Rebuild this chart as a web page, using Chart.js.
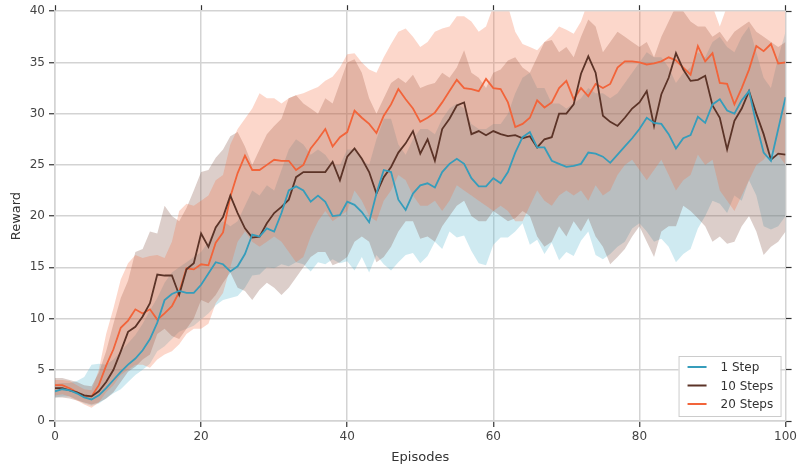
<!DOCTYPE html>
<html>
<head>
<meta charset="utf-8">
<script src="https://cdn.jsdelivr.net/npm/chart.js@4/dist/chart.umd.min.js"></script>
<style>
  html, body { margin: 0; padding: 0; background: #fff; }
  #wrap { width: 800px; height: 467px; }
</style>
</head>
<body>
<div id="wrap"><canvas id="rewardChart" width="800" height="467"></canvas></div>
<script>
// series names
const seriesNames = ['1 Step', '10 Steps', '20 Steps'];

// axis ticks
const xTicks = [0, 20, 40, 60, 80, 100];
const yTicks = [0, 5, 10, 15, 20, 25, 30, 35, 40];

// mean reward per episode (episode = index, 0..100)
const step1Mean = [
  2.9, 3.1, 3.0, 2.7, 2.3, 2.1, 2.5, 3.2, 4.0, 4.8,
  5.5, 6.1, 6.9, 8.0, 9.6, 11.8, 12.4, 12.7, 12.5, 12.5,
  13.3, 14.4, 15.5, 15.3, 14.6, 15.1, 16.3, 18.2, 18.0, 18.8,
  18.5, 20.3, 22.5, 22.9, 22.5, 21.4, 22.0, 21.4, 20.0, 20.1,
  21.4, 21.1, 20.4, 19.4, 22.2, 24.5, 24.3, 21.6, 20.6, 22.2,
  23.0, 23.2, 22.8, 24.3, 25.1, 25.6, 25.1, 23.7, 22.9, 22.9,
  23.7, 23.2, 24.3, 26.2, 27.7, 28.2, 26.7, 26.7, 25.4, 25.1,
  24.8, 24.9, 25.1, 26.2, 26.1, 25.8, 25.2, 26.0, 26.8, 27.6,
  28.5, 29.6, 29.1, 29.0, 28.0, 26.6, 27.6, 27.9, 29.7, 29.1,
  30.9, 31.4, 30.3, 30.0, 31.3, 32.2, 29.0, 26.2, 25.4, 28.5,
  31.6
];
const step10Mean = [
  3.2, 3.2, 3.0, 2.8, 2.5, 2.4, 2.9, 3.8, 5.0, 6.8,
  8.7, 9.2, 10.2, 11.5, 14.3, 14.2, 14.2, 12.3, 14.8, 15.4,
  18.3, 17.0, 18.9, 19.9, 22.0, 20.3, 18.8, 17.9, 18.0, 19.3,
  20.3, 20.9, 21.6, 23.8, 24.3, 24.3, 24.3, 24.3, 25.3, 23.5,
  25.8, 26.6, 25.6, 24.3, 22.2, 23.8, 24.8, 26.2, 27.1, 28.3,
  26.1, 27.5, 25.4, 28.5, 29.5, 30.8, 31.1, 28.0, 28.3, 27.9,
  28.3, 28.0, 27.8, 27.9, 27.6, 27.8, 26.7, 27.5, 27.7, 30.0,
  30.0, 30.9, 33.9, 35.6, 34.0, 29.8, 29.2, 28.8, 29.6, 30.5,
  31.1, 32.2, 28.8, 31.9, 33.5, 35.9, 34.3, 33.2, 33.3, 33.7,
  30.8, 29.6, 26.5, 29.3, 30.5, 32.2, 30.0, 28.0, 25.5, 26.1,
  26.0
];
const step20Mean = [
  3.5, 3.5, 3.2, 2.8, 2.4, 2.4, 3.5, 5.4, 7.0, 9.1,
  9.8, 10.9, 10.5, 10.9, 9.9, 10.5, 11.2, 12.6, 14.9, 14.8,
  15.3, 15.2, 17.4, 18.4, 21.9, 24.2, 25.9, 24.5, 24.5, 25.0,
  25.5, 25.4, 25.4, 24.5, 25.0, 26.6, 27.5, 28.5, 26.8, 27.7,
  28.2, 30.3, 29.6, 29.0, 28.1, 29.8, 30.9, 32.4, 31.4, 30.5,
  29.2, 29.6, 30.1, 31.1, 32.2, 33.3, 32.5, 32.4, 32.2, 33.4,
  32.5, 32.4, 31.1, 28.7, 29.0, 29.6, 31.3, 30.6, 31.1, 32.5,
  33.2, 31.4, 32.5, 31.7, 32.9, 32.5, 32.9, 34.5, 35.1, 35.1,
  35.0, 34.8, 34.9, 35.1, 35.5, 35.2, 34.5, 33.8, 36.6, 35.1,
  35.9, 33.0, 32.9, 30.9, 32.5, 34.3, 36.6, 36.1, 36.8, 34.9,
  35.0
];

// shaded band edges
const step1High = [
  3.6, 3.7, 3.7, 3.9, 4.3, 5.5, 5.6, 5.5, 6.0, 6.8,
  7.6, 8.4, 9.5, 10.8, 12.0, 13.5, 14.5, 15.0, 15.5, 16.0,
  16.5, 17.5, 19.0, 19.5, 19.0, 19.5, 21.0, 22.5, 22.0, 23.0,
  22.5, 24.5, 26.5, 27.5, 27.0, 26.0, 26.5, 26.0, 25.0, 25.0,
  26.5, 26.5, 25.5, 25.0, 27.5, 29.5, 29.5, 27.0, 26.0, 27.5,
  28.5, 28.5, 28.0, 29.5, 30.5, 31.0, 30.5, 29.0, 28.5, 28.5,
  29.0, 29.0, 30.0, 32.0, 33.5, 34.0, 32.5, 32.5, 31.0, 31.0,
  30.5, 31.0, 31.5, 32.5, 32.0, 32.0, 31.5, 32.0, 33.0, 34.0,
  35.0, 36.0, 35.5, 35.5, 34.5, 33.0, 34.0, 34.5, 36.0, 35.5,
  37.0, 37.5, 36.5, 36.0, 37.5, 38.5, 36.0, 33.5, 32.5, 35.5,
  38.0
];
const step1Low = [
  2.3, 2.4, 2.4, 2.1, 1.7, 1.5, 1.7, 2.2, 2.7, 3.1,
  3.8, 4.5, 5.0, 5.6, 6.8, 7.3, 8.0, 8.7, 9.0, 9.3,
  9.9, 10.5, 11.3, 11.8, 12.0, 12.2, 13.0, 14.2, 14.3, 15.0,
  14.9, 15.3, 15.1, 15.5, 15.3, 14.6, 15.5, 15.3, 15.8, 15.4,
  15.6, 14.7, 16.0, 14.5, 16.2, 15.3, 14.7, 15.5, 16.2, 16.4,
  15.4, 16.1, 17.5, 16.8, 18.5, 17.9, 18.1, 16.6, 15.4, 15.2,
  17.2, 17.9, 17.9, 18.5, 19.3, 17.2, 17.7, 16.3, 17.4, 15.7,
  16.5, 16.1, 17.6, 18.5, 16.2, 15.8, 16.3, 17.0, 17.5, 18.8,
  19.3, 18.5, 17.5, 17.8, 17.0, 15.5, 16.3, 16.8, 18.8, 20.0,
  21.5, 21.2, 20.3, 22.0, 21.5, 23.5, 22.0, 19.0, 18.7, 19.0,
  20.0
];
const step10High = [
  4.2, 4.2, 4.0, 3.8, 3.5, 3.4, 4.7, 6.8, 9.5, 12.0,
  13.7, 16.5, 16.8, 18.5, 18.3, 21.0, 20.0, 19.5, 20.8, 22.5,
  24.3, 24.5, 25.7, 26.5, 27.8, 28.2, 26.8, 25.0, 26.5, 28.0,
  28.8, 29.5, 31.5, 31.8, 31.0, 30.5, 30.0, 31.5, 31.0, 33.0,
  35.0, 35.3, 34.0, 31.5, 30.0, 31.5, 33.0, 33.5, 33.0, 33.8,
  32.5, 32.8, 33.0, 34.0, 33.5, 34.5, 36.2, 34.0, 33.5, 32.5,
  34.0, 34.3, 35.2, 35.5, 34.5, 34.0, 35.5, 37.0, 37.2, 36.0,
  36.5, 35.5, 37.5, 39.2, 38.5, 36.0, 37.0, 38.0, 37.5, 37.0,
  36.5, 37.0, 35.5, 37.5, 39.0, 40.5, 40.0, 39.0, 38.5, 38.5,
  37.5, 38.0, 37.0, 38.0, 38.5, 39.0, 38.0, 37.5, 37.0, 36.5,
  37.0
];
const step10Low = [
  2.3, 2.3, 2.2, 2.0, 1.8, 1.6, 1.8, 2.2, 2.8, 3.8,
  4.8, 5.3, 6.0, 6.5, 8.5, 9.0, 8.3, 8.0, 9.0, 10.0,
  11.8, 11.5, 12.3, 13.5, 14.5, 13.0, 12.7, 11.8, 12.8, 13.5,
  13.0, 12.3, 13.0, 14.0, 15.0, 16.0, 16.5, 16.5, 15.2, 15.5,
  16.0, 17.5, 18.0, 17.5, 15.5, 16.0, 17.0, 18.5, 19.5, 19.5,
  17.8, 18.0, 17.5, 19.0, 20.0, 21.0, 21.5, 20.0, 19.5, 19.5,
  20.5, 20.0, 19.5, 19.8, 20.5, 20.0, 18.0, 17.0, 17.5, 19.0,
  18.0, 19.5, 18.5, 19.8, 18.0, 17.0, 15.3, 16.0, 16.8, 18.0,
  19.0, 17.5, 16.0, 18.5, 19.0, 19.0, 21.0, 20.5, 19.8, 19.0,
  17.5, 18.0, 17.3, 17.5, 19.0, 20.0, 18.5, 16.2, 17.0, 17.5,
  18.5
];
const step20High = [
  4.0, 4.0, 3.9, 3.5, 3.1, 3.0, 5.0, 8.5, 11.0, 13.8,
  15.4, 16.2, 15.9, 16.1, 16.2, 15.9, 17.5, 20.5, 21.2, 21.0,
  21.5, 22.0, 23.5, 24.0, 27.0, 28.5, 29.5, 30.5, 32.0, 31.5,
  31.5, 31.0, 31.5, 31.8, 32.0, 32.3, 32.6, 33.2, 33.6, 34.5,
  35.8, 35.9, 35.0, 34.3, 34.0, 35.5, 36.8, 38.0, 38.3, 37.5,
  36.5, 37.0, 38.0, 38.3, 38.5, 39.5, 39.5, 39.0, 38.0, 38.5,
  40.5, 41.0, 40.5, 38.0, 36.8, 36.5, 36.2, 37.0, 37.6, 38.5,
  38.2, 37.8, 39.0, 41.0, 41.0, 41.5, 41.0, 41.0, 41.0, 40.5,
  40.5, 41.0, 41.5, 41.0, 41.0, 41.5, 41.0, 40.5, 41.5, 40.5,
  40.5, 38.5, 40.5, 40.5, 40.5, 41.0, 41.5, 41.0, 41.0, 40.5,
  41.0
];
const step20Low = [
  2.5, 2.6, 2.4, 2.0, 1.6, 1.3, 1.8, 2.8, 3.5, 4.5,
  5.0, 5.5, 5.5, 5.2, 6.0, 6.5, 6.8, 7.5, 8.5, 9.0,
  9.0, 9.5, 11.5, 12.5, 15.0, 17.5, 18.5, 17.5, 17.0, 17.5,
  18.0, 17.5, 16.5, 15.5, 16.0, 18.0, 19.5, 20.5, 19.5, 20.0,
  20.5, 22.5, 21.5, 20.0, 19.5, 21.5, 22.5, 24.0, 23.5, 22.0,
  21.0, 21.0, 21.5, 20.5, 21.5, 23.0, 22.5, 22.0, 21.5, 21.0,
  20.5, 21.0, 20.5, 19.5, 19.5, 21.0, 22.5, 21.5, 21.0, 22.0,
  22.5, 22.0, 22.5, 21.5, 23.0, 22.0, 22.5, 24.0, 25.0, 25.5,
  24.5, 23.5, 24.5, 25.5, 24.0, 22.5, 23.5, 24.0, 26.0, 25.0,
  25.5, 22.5, 21.5, 20.5, 22.0, 23.5, 25.0, 25.5, 26.5, 26.0,
  25.0
];

const lineColors = ['#369dbb', '#5b3327', '#f2643a'];
const bandColors = ['rgba(96, 186, 208, 0.3)', 'rgba(125, 75, 60, 0.27)', 'rgba(246, 112, 70, 0.28)'];
const FONT = 'DejaVu Sans';

// episode number is the array index
const toPoints = arr => arr.map((v, i) => ({ x: i, y: v }));

function bandPair(hi, lo, color, order) {
  return [
    { data: toPoints(hi), borderWidth: 0, pointRadius: 0, fill: false, order: order },
    { data: toPoints(lo), borderWidth: 0, pointRadius: 0, fill: '-1', backgroundColor: color, order: order }
  ];
}

function meanLine(label, arr, color) {
  return { label: label, data: toPoints(arr), borderColor: color, borderWidth: 1.8, pointRadius: 0, fill: false, tension: 0, order: 0 };
}

// legend box in the lower right corner, like the original
const cornerLegend = {
  id: 'cornerLegend',
  afterDraw(chart) {
    const ctx = chart.ctx;
    const area = chart.chartArea;
    const w = 102, h = 60;
    const x = area.right - 107, y = area.bottom - 65;
    ctx.save();
    ctx.fillStyle = '#fff';
    ctx.strokeStyle = '#cccccc';
    ctx.lineWidth = 1;
    ctx.fillRect(x, y, w, h);
    ctx.strokeRect(x + 0.5, y + 0.5, w, h);
    ctx.font = '12px "' + FONT + '"';
    ctx.textBaseline = 'middle';
    ctx.fillStyle = '#333';
    seriesNames.forEach((name, i) => {
      const ly = y + 11 + i * 18.5;
      ctx.strokeStyle = lineColors[i];
      ctx.lineWidth = 2;
      ctx.beginPath();
      ctx.moveTo(x + 9, ly);
      ctx.lineTo(x + 28, ly);
      ctx.stroke();
      ctx.fillText(name, x + 42, ly + 1);
    });
    ctx.restore();
  }
};

const gridColor = '#d3d3d3';
const tickFont = { family: FONT, size: 12 };

new Chart(document.getElementById('rewardChart'), {
  type: 'line',
  data: {
    datasets: [
      meanLine(seriesNames[0], step1Mean, lineColors[0]),
      meanLine(seriesNames[1], step10Mean, lineColors[1]),
      meanLine(seriesNames[2], step20Mean, lineColors[2]),
      ...bandPair(step20High, step20Low, bandColors[2], 1),
      ...bandPair(step10High, step10Low, bandColors[1], 2),
      ...bandPair(step1High, step1Low, bandColors[0], 3)
    ]
  },
  options: {
    responsive: false,
    animation: false,
    layout: { padding: 0 },
    plugins: {
      legend: { display: false },
      tooltip: { enabled: false }
    },
    scales: {
      x: {
        type: 'linear', position: 'bottom', min: 0, max: 100,
        afterBuildTicks: s => { s.ticks = xTicks.map(v => ({ value: v })); },
        afterFit: s => { s.height = 46; },
        ticks: { color: '#444', font: tickFont, padding: 3, maxRotation: 0 },
        grid: { color: gridColor, lineWidth: 1.5, tickColor: '#333', tickLength: 6, tickWidth: 1.2 },
        border: { color: gridColor, width: 1.5 },
        title: { display: true, text: 'Episodes', color: '#333', font: { family: FONT, size: 13 }, padding: { top: 0, bottom: 2 } }
      },
      xTop: {
        type: 'linear', position: 'top', min: 0, max: 100,
        afterBuildTicks: s => { s.ticks = xTicks.map(v => ({ value: v })); },
        afterFit: s => { s.height = 9; },
        ticks: { display: false },
        grid: { drawOnChartArea: false, tickColor: '#333', tickLength: 6, tickWidth: 1.2 },
        border: { display: false }
      },
      y: {
        type: 'linear', position: 'left', min: 0, max: 40,
        afterBuildTicks: s => { s.ticks = yTicks.map(v => ({ value: v })); },
        afterFit: s => { s.width = 55; },
        ticks: { color: '#444', font: tickFont, padding: 4 },
        grid: { color: gridColor, lineWidth: 1.5, tickColor: '#333', tickLength: 6, tickWidth: 1.2 },
        border: { color: gridColor, width: 1.5 },
        title: { display: true, text: 'Reward', color: '#333', font: { family: FONT, size: 13 }, padding: { top: 9, bottom: 0 } }
      },
      yRight: {
        type: 'linear', position: 'right', min: 0, max: 40,
        afterBuildTicks: s => { s.ticks = yTicks.map(v => ({ value: v })); },
        afterFit: s => { s.width = 11; },
        ticks: { display: false },
        grid: { drawOnChartArea: false, tickColor: '#333', tickLength: 6, tickWidth: 1.2 },
        border: { display: false }
      }
    }
  },
  plugins: [cornerLegend]
});
</script>
</body>
</html>
